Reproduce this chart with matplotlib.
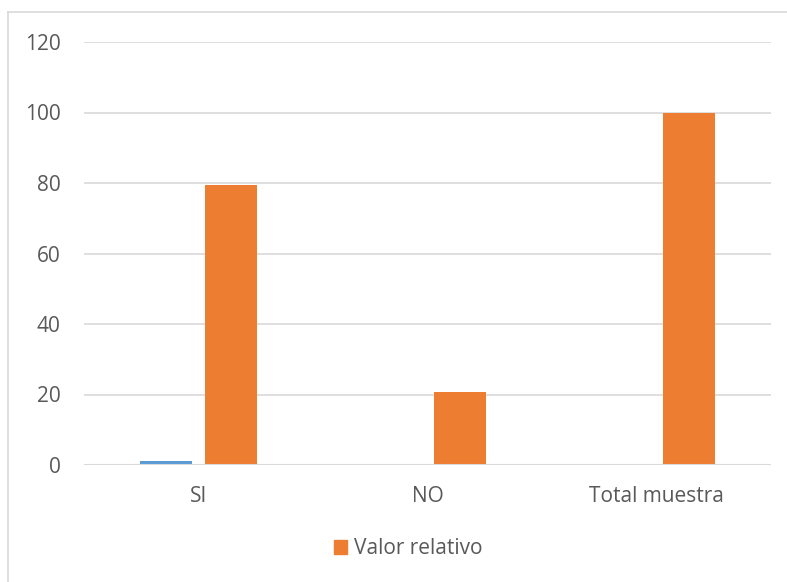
import numpy as np
import matplotlib.pyplot as plt
from matplotlib.lines import Line2D
from matplotlib.patches import Patch

categorias = ['SI', 'NO', 'Total muestra']
valor_absoluto = [1, 0, 0]
valor_relativo = [79.3, 20.6, 100]
ticks_y = [0, 20, 40, 60, 80, 100, 120]

plt.rcParams['font.family'] = ['Open Sans', 'DejaVu Sans']
texto = '#595959'

fig = plt.figure(figsize=(7.87, 5.82), dpi=100)
ax = fig.add_axes([84 / 787, 1 - 465 / 582, (771 - 84) / 787, (465 - 42) / 582])

x = np.arange(len(categorias))
ancho = 0.223
ax.bar(x - 0.142, valor_absoluto, ancho, color='#5B9BD5', zorder=3)
ax.bar(x + 0.142, valor_relativo, ancho, color='#ED7D31', zorder=3)

ax.set_xlim(-0.5, len(categorias) - 0.5)
ax.set_ylim(0, 120)
ax.set_yticks(ticks_y)
ax.set_xticks(x)
ax.set_xticklabels(categorias)
ax.tick_params(axis='both', length=0, labelsize=15, colors=texto)
ax.tick_params(axis='y', pad=17)
ax.tick_params(axis='x', pad=15)
ax.grid(axis='y', color='#D9D9D9', linewidth=1.2, zorder=0)
for s in ax.spines.values():
    s.set_visible(False)
ax.axhline(0, color='#D9D9D9', linewidth=1.5, zorder=4)

# marco del gráfico
fig.add_artist(Line2D([7.5 / 787, 7.5 / 787], [0, 1 - 12 / 582], transform=fig.transFigure,
                      color='#D9D9D9', linewidth=1.2))
fig.add_artist(Line2D([7.5 / 787, 1], [1 - 12 / 582, 1 - 12 / 582], transform=fig.transFigure,
                      color='#D9D9D9', linewidth=1.2))

fig.legend(handles=[Patch(color='#ED7D31', label='Valor relativo')],
           loc='center', bbox_to_anchor=(408 / 787, 1 - 549 / 582), frameon=False,
           fontsize=15, labelcolor=texto, handlelength=0.65, handleheight=0.65,
           handletextpad=0.3)

fig.savefig('out.png', dpi=100)
